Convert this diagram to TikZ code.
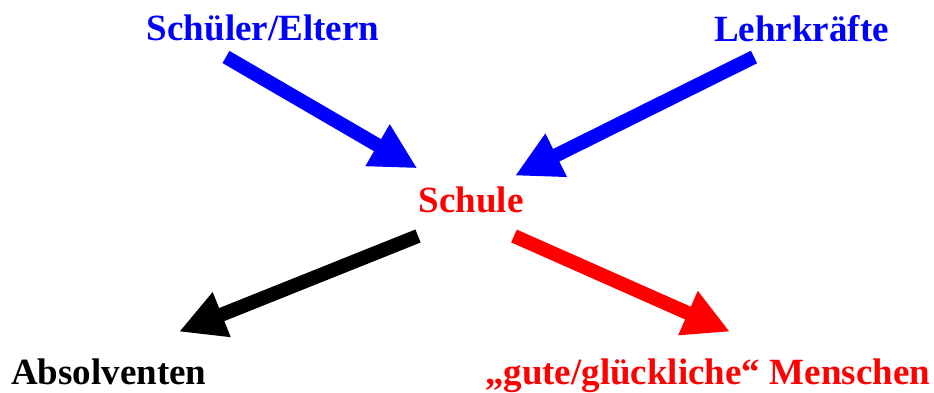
\documentclass[tikz,border=0pt]{standalone}
\usepackage{fontspec}
\setmainfont{Liberation Serif}
\usepackage{tikz}
\usetikzlibrary{calc}
\usetikzlibrary{arrows.meta}
\definecolor{qqqqff}{rgb}{0.,0.,1.}
\definecolor{ffqqqq}{rgb}{1.,0.,0.}
\tikzstyle{every node}=[font=\fontsize{37}{44}\selectfont\bfseries,inner sep=0pt]
\tikzstyle{pfeil}=[line width=14pt,-{Triangle[width=45pt,length=46pt]}]

\begin{document}
\begin{tikzpicture}[line cap=butt,line join=miter,x=1pt,y=1pt]
            \useasboundingbox (0.,0.) rectangle (934.,392.);
            % Beschriftungen
            \node [anchor=base,color=qqqqff] (eltern) at (263.,351.3) {Schüler/Eltern};
            \node [anchor=base,color=qqqqff] (lehrer) at (801.5,351.) {Lehrkräfte};
            \node [anchor=base,color=ffqqqq] (schule) at (471.,179.3) {Schule};
            \node [anchor=base,color=black] (absolv) at (108.7,8.) {Absolventen};
            \node [anchor=base,color=ffqqqq] (menschen) at (707.5,8.) {„gute/glückliche“ Menschen};
            % Pfeilenden
            \coordinate (elternA) at (226.,335.);
            \coordinate (elternB) at (417.3,223.7);
            \coordinate (lehrerA) at (754.,335.);
            \coordinate (lehrerB) at (515.,216.3);
            \coordinate (absolvA) at (418.,156.);
            \coordinate (absolvB) at (179.,60.3);
            \coordinate (menschenA) at (514.,156.);
            \coordinate (menschenB) at (730.,60.3);
            \draw [pfeil,color=qqqqff] (elternA) -- (elternB);
            \draw [pfeil,color=qqqqff] (lehrerA) -- (lehrerB);
            \draw [pfeil,color=black] (absolvA) -- (absolvB);
            \draw [pfeil,color=ffqqqq] (menschenA) -- (menschenB);
\end{tikzpicture}
\end{document}
